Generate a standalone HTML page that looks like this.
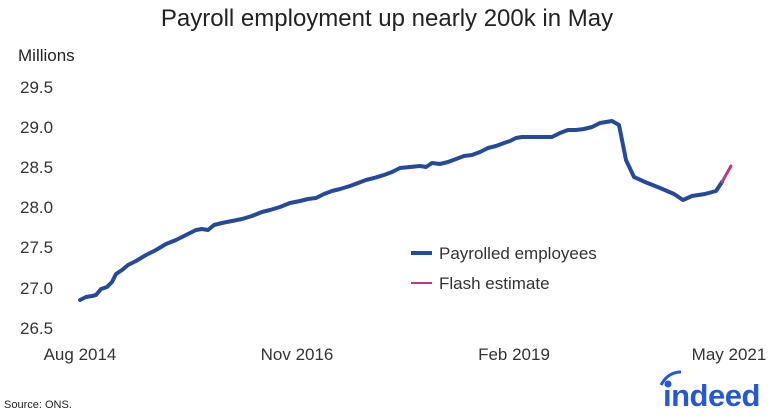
<!DOCTYPE html>
<html><head><meta charset="utf-8"><style>
body{margin:0;background:#fff;width:774px;height:413px;overflow:hidden;font-family:"Liberation Sans",sans-serif;}
</style></head><body>
<svg width="774" height="413" xmlns="http://www.w3.org/2000/svg" font-family="Liberation Sans, sans-serif">
<text x="387" y="26" text-anchor="middle" font-size="24" fill="#222">Payroll employment up nearly 200k in May</text>
<text x="18" y="61" font-size="17" fill="#222">Millions</text>
<g font-size="17" fill="#333">
<text x="20" y="93">29.5</text>
<text x="20" y="133">29.0</text>
<text x="20" y="173">28.5</text>
<text x="20" y="213">28.0</text>
<text x="20" y="253">27.5</text>
<text x="20" y="294">27.0</text>
<text x="20" y="334">26.5</text>
<text x="80" y="360" text-anchor="middle">Aug 2014</text>
<text x="297" y="360" text-anchor="middle">Nov 2016</text>
<text x="514" y="360" text-anchor="middle">Feb 2019</text>
<text x="729" y="360" text-anchor="middle">May 2021</text>
</g>
<polyline fill="none" stroke="#25499b" stroke-width="4" stroke-linejoin="round" stroke-linecap="round" points="80,300 86,297 92,296 96,295 101,289 107,287 112,282 116,274 122,270 128,265 136,261 146,255 156,250 166,244 176,240 186,235 196,230 202,229 208,230 214,225 222,223 232,221 242,219 252,216 262,212 270,210 280,207 290,203 300,201 308,199 316,198 324,194 332,191 340,189 350,186 358,183 366,180 374,178 384,175 392,172 400,168 410,167 420,166 426,167 432,163 440,164 448,162 456,159 464,156 472,155 480,152 488,148 496,146 504,143 510,141 516,138 522,137 532,137 542,137 552,137 560,133 568,130 576,130 584,129 592,127 600,123 612,121 619,125 626,160 634,177 645,182 660,188 674,194 683,200 692,196 705,194 716,191 722,182"/>
<polyline fill="none" stroke="#c0397e" stroke-width="3" stroke-linecap="round" points="722,182 731,166"/>
<line x1="411" y1="253" x2="432" y2="253" stroke="#25499b" stroke-width="4"/>
<line x1="411" y1="283" x2="432" y2="283" stroke="#c0397e" stroke-width="2"/>
<text x="439" y="259" font-size="17" fill="#333">Payrolled employees</text>
<text x="439" y="289" font-size="17" fill="#333">Flash estimate</text>
<text x="4" y="408" font-size="11" fill="#222">Source: ONS.</text>
<text x="663" y="406" font-size="31" font-weight="bold" fill="#2557d6" letter-spacing="-0.5">ındeed</text>
<path d="M661,385 Q668,372 681,372" fill="none" stroke="#2557d6" stroke-width="3"/>
<circle cx="668" cy="384" r="3.5" fill="#2557d6"/>
</svg>
</body></html>
